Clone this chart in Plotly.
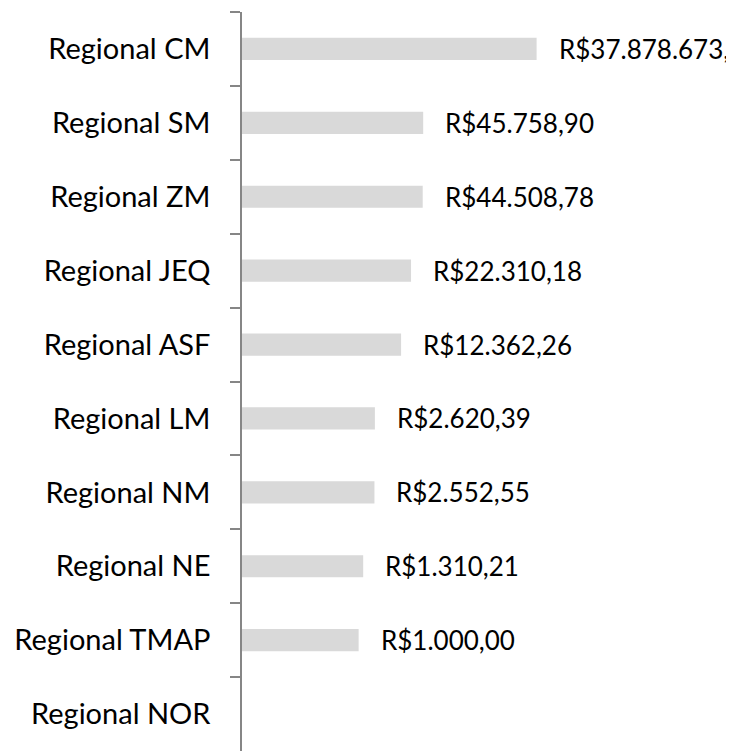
import numpy as np
import plotly.graph_objects as go

categories = ["Regional CM", "Regional SM", "Regional ZM", "Regional JEQ", "Regional ASF",
              "Regional LM", "Regional NM", "Regional NE", "Regional TMAP", "Regional NOR"]
values = [37878673.00, 45758.90, 44508.78, 22310.18, 12362.26,
          2620.39, 2552.55, 1310.21, 1000.00, None]
# value labels as they appear in the chart (the first one is cut at the chart edge)
value_labels = ["R$37.878.673,", "R$45.758,90", "R$44.508,78", "R$22.310,18", "R$12.362,26",
                "R$2.620,39", "R$2.552,55", "R$1.310,21", "R$1.000,00", ""]

FONT = "Lato"

fig = go.Figure()
fig.add_trace(go.Bar(
    y=categories, x=values, orientation="h",
    marker=dict(color="#d9d9d9", line=dict(width=0)),
    hoverinfo="skip",
))

for c, v, lab in zip(categories, values, value_labels):
    if v is None or not lab:
        continue
    fig.add_annotation(
        x=np.log10(v), y=c, xref="x", yref="y",
        text=lab, showarrow=False, xanchor="left", yanchor="middle",
        xshift=20, font=dict(family=FONT, size=26, color="#000000"),
    )

fig.update_layout(
    width=726, height=743,
    margin=dict(l=234, r=181, t=4, b=0),
    paper_bgcolor="white", plot_bgcolor="white",
    showlegend=False, bargap=0.70,
    font=dict(family=FONT, size=29, color="#000000"),
)
fig.update_xaxes(type="log", range=[0, 8], visible=False, showgrid=False)
fig.update_yaxes(
    autorange="reversed", type="category",
    showline=True, linecolor="#868686", linewidth=1.5,
    ticks="outside", tickson="boundaries", ticklen=10, tickcolor="#868686", tickwidth=1.5,
    showgrid=False, ticklabelstandoff=24,
    tickfont=dict(family=FONT, size=29, color="#000000"),
)

fig.write_html("out.html")
